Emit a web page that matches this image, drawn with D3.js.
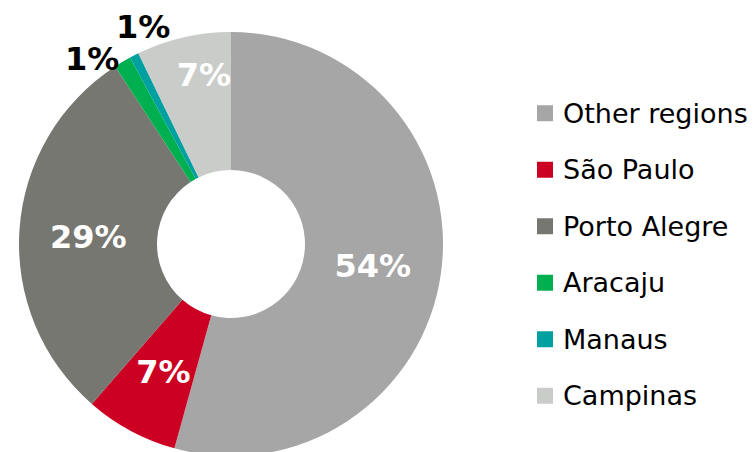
<!DOCTYPE html>
<html lang="en">
<head>
  <meta charset="utf-8">
  <title>Share by region</title>
  <script src="https://d3js.org/d3.v7.min.js"></script>
  <style>
    body { margin: 0; background: #fff; }
    svg { display: block; font-family: "DejaVu Sans", Verdana, sans-serif; }
  </style>
</head>
<body>
  <svg id="chart" width="754" height="452"></svg>
  <script>
    // data (share, %)
    const regions = ["Other regions", "São Paulo", "Porto Alegre", "Aracaju", "Manaus", "Campinas"];
    const shares = [54.3, 7.1, 29.4, 1.3, 0.7, 7.2];
    const colors = ["#a6a6a6", "#cc0022", "#777772", "#00b050", "#00a0a0", "#c9ccc9"];

    // small slices get their label pushed out of the ring (radius, angle nudge in degrees)
    const labelTweak = {
      "Campinas": { r: 174, da: 4, fill: "#fff" },
      "Aracaju": { r: 233, da: -5.8, fill: "#000" },
      "Manaus": { r: 236, da: 5.3, fill: "#000" }
    };

    const svg = d3.select("#chart");
    const cx = 231, cy = 244, outerR = 212, innerR = 74;

    const items = regions.map((name, i) => ({ name, value: shares[i], color: colors[i] }));
    const total = d3.sum(shares);

    const pie = d3.pie().sort(null).value(d => d.value);
    const arcs = pie(items);
    const arc = d3.arc().innerRadius(innerR).outerRadius(outerR);

    const g = svg.append("g").attr("transform", `translate(${cx},${cy})`);

    g.selectAll("path")
      .data(arcs)
      .join("path")
        .attr("d", arc)
        .attr("fill", d => d.data.color);

    g.selectAll("text")
      .data(arcs)
      .join("text")
        .attr("transform", d => {
          const t = labelTweak[d.data.name];
          let a = (d.startAngle + d.endAngle) / 2;
          let r = (innerR + outerR) / 2;
          if (t) { a += t.da * Math.PI / 180; r = t.r; }
          return `translate(${r * Math.sin(a)},${-r * Math.cos(a)})`;
        })
        .attr("text-anchor", "middle")
        .attr("dy", "0.42em")
        .attr("font-size", 32)
        .attr("font-weight", "bold")
        .attr("fill", d => labelTweak[d.data.name] ? labelTweak[d.data.name].fill : "#fff")
        .text(d => Math.round(d.data.value / total * 100) + "%");

    // legend
    const y = d3.scaleBand().domain(regions).range([85, 424]);
    const legend = svg.append("g")
      .selectAll("g")
      .data(items)
      .join("g")
        .attr("transform", d => `translate(537,${y(d.name) + y.bandwidth() / 2})`);

    legend.append("rect")
      .attr("x", 0).attr("y", -8)
      .attr("width", 16).attr("height", 16)
      .attr("fill", d => d.color);

    legend.append("text")
      .attr("x", 26)
      .attr("dy", "0.36em")
      .attr("font-size", 27)
      .attr("fill", "#000")
      .text(d => d.name);
  </script>
</body>
</html>
